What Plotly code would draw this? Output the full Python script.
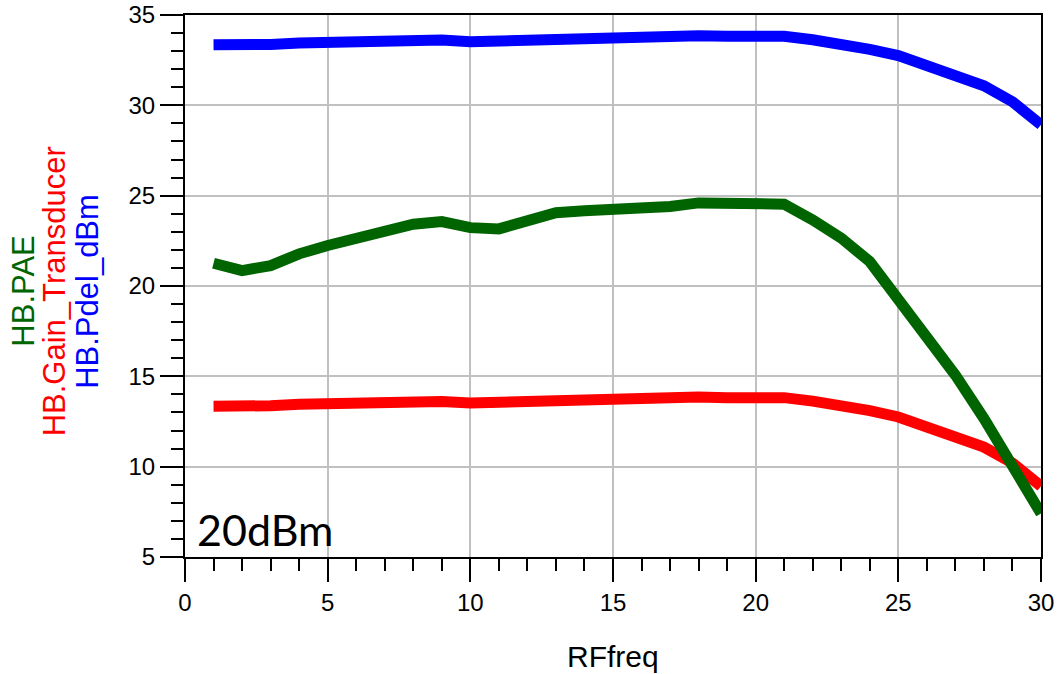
import plotly.graph_objects as go

freq = [1, 2, 3, 4, 5, 6, 7, 8, 9, 10, 11, 12, 13, 14, 15,
        16, 17, 18, 19, 20, 21, 22, 23, 24, 25, 26, 27, 28, 29, 30]
pdel_dbm = [33.35, 33.32, 33.37, 33.45, 33.50, 33.53, 33.60, 33.65, 33.61, 33.52,
            33.56, 33.67, 33.76, 33.74, 33.75, 33.76, 33.80, 33.85, 33.82, 33.83,
            33.82, 33.63, 33.39, 33.10, 32.75, 32.23, 31.71, 31.08, 30.20, 28.92]
gain_transducer = [13.35, 13.32, 13.37, 13.45, 13.50, 13.53, 13.60, 13.65, 13.61, 13.52,
                   13.56, 13.67, 13.76, 13.74, 13.75, 13.76, 13.80, 13.85, 13.82, 13.83,
                   13.82, 13.63, 13.39, 13.10, 12.75, 12.23, 11.71, 11.08, 10.20, 8.92]
pae = [21.26, 20.85, 21.13, 21.78, 22.24, 22.68, 23.10, 23.42, 23.57, 23.23,
       23.16, 23.62, 24.06, 24.16, 24.24, 24.25, 24.40, 24.60, 24.55, 24.62,
       24.53, 23.66, 22.65, 21.35, 19.32, 17.19, 15.07, 12.67, 10.09, 7.41]

x_ticks = [0, 5, 10, 15, 20, 25, 30]
y_ticks = [5, 10, 15, 20, 25, 30, 35]

fig = go.Figure()
fig.add_trace(go.Scatter(x=freq, y=pdel_dbm, mode="lines",
                         line=dict(color="#0000ff", width=11), name="HB.Pdel_dBm"))
fig.add_trace(go.Scatter(x=freq, y=gain_transducer, mode="lines",
                         line=dict(color="#ff0000", width=11), name="HB.Gain_Transducer"))
fig.add_trace(go.Scatter(x=freq, y=pae, mode="lines",
                         line=dict(color="#006400", width=11), name="HB.PAE"))

tickfont = dict(family="Liberation Sans, Arial, sans-serif", size=24, color="black")

axis_common = dict(ticks="outside", ticklen=23, tickwidth=2, tickcolor="black",
                   showline=True, linecolor="black", linewidth=2, mirror=True,
                   showgrid=True, gridcolor="#c0c0c0", gridwidth=1.5,
                   zeroline=False, tickfont=tickfont, automargin=False,
                   minor=dict(dtick=1, ticks="outside", ticklen=12, tickwidth=2,
                              tickcolor="black", showgrid=False))

fig.update_layout(
    width=1059, height=674,
    margin=dict(l=185, r=18, t=15, b=117, autoexpand=False),
    paper_bgcolor="white", plot_bgcolor="white",
    showlegend=False,
    xaxis=dict(range=[0, 30], tickvals=x_ticks, **axis_common),
    yaxis=dict(range=[5, 35], tickvals=y_ticks, **axis_common),
)

title_font = "Liberation Sans, Arial, sans-serif"
ytitles = [("HB.PAE", "#006400", -0.189),
           ("HB.Gain_Transducer", "#ff0000", -0.152),
           ("HB.Pdel_dBm", "#0000ff", -0.114)]
for txt, col, xp in ytitles:
    fig.add_annotation(text=txt, xref="paper", yref="paper", x=xp, y=0.49,
                       xanchor="center", yanchor="middle", textangle=-90,
                       showarrow=False, font=dict(family=title_font, size=31, color=col))

fig.add_annotation(text="RFfreq", xref="paper", yref="paper", x=0.5, y=-0.184,
                   xanchor="center", yanchor="middle", showarrow=False,
                   font=dict(family=title_font, size=30, color="black"))

fig.add_annotation(text="20dBm", xref="x", yref="y", x=0.35, y=6.55,
                   xanchor="left", yanchor="middle", showarrow=False,
                   font=dict(family="Lato, sans-serif", size=43, color="black"))

fig.write_html("out.html", config={"displayModeBar": False},
               post_script="document.body.style.margin='0';document.body.style.overflow='hidden';")
